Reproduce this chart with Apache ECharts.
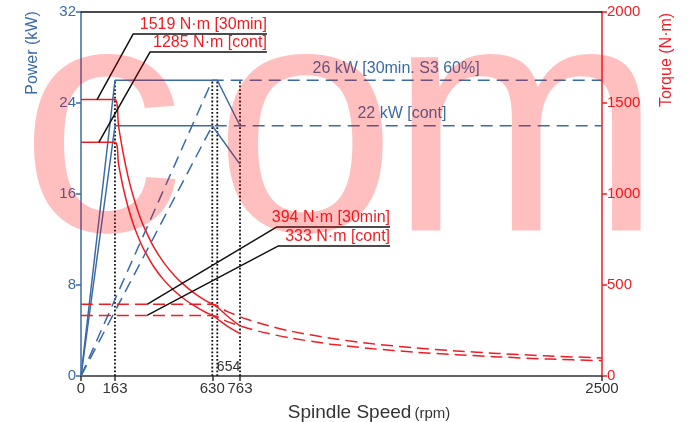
<!DOCTYPE html>
<html>
<head>
<meta charset="utf-8">
<script src="https://cdn.jsdelivr.net/npm/echarts@6/dist/echarts.min.js"></script>
<style>
html, body { margin: 0; padding: 0; background: #fff; }
#chart { width: 694px; height: 422px; }
</style>
</head>
<body>
<div id="chart"></div>
<script>
var blue = '#3b6ba5', red = '#ee1d24', dark = '#333333';
var font = 'Liberation Sans, Arial, sans-serif';

// power curves, [rpm, kW]
var power30 = [[0, 0], [163, 26], [654, 26], [763, 22]];
var powerCont = [[0, 0], [163, 22], [630, 22], [763, 18.6]];
var power30Hi = [[0, 0], [630, 26], [2500, 26]];
var powerContHi = [[0, 0], [630, 22], [2500, 22]];

// torque curves, [rpm, N·m]
var torque30 = [[0, 1519], [163, 1519], [180, 1375], [200, 1238], [225, 1100], [250, 990], [275, 900],
    [300, 825], [350, 707], [400, 619], [450, 550], [500, 495], [550, 450], [600, 413], [654, 379],
    [700, 331], [763, 275]];
var torqueCont = [[0, 1285], [163, 1285], [180, 1165], [200, 1048], [225, 931], [250, 838], [275, 762],
    [300, 698], [350, 599], [400, 524], [450, 466], [500, 419], [550, 381], [600, 349], [630, 333],
    [700, 276], [763, 233]];
var torque30Hi = [[0, 394], [630, 394], [700, 355], [800, 310], [900, 276], [1000, 248], [1200, 207],
    [1400, 177], [1600, 155], [1800, 138], [2000, 124], [2250, 110], [2500, 99]];
var torqueContHi = [[0, 333], [630, 333], [700, 300], [800, 262], [900, 233], [1000, 210], [1200, 175],
    [1400, 150], [1600, 131], [1800, 117], [2000, 105], [2250, 93], [2500, 84]];

// leader lines to the torque labels, [rpm, N·m]
var leader1519 = [[77, 1519], [250, 1879], [892, 1879]];
var leader1285 = [[86, 1285], [331, 1780], [892, 1780]];
var leader394 = [[317, 394], [940, 819], [1483, 819]];
var leader333 = [[317, 333], [945, 714], [1483, 714]];

var speedMarks = [163, 630, 654, 763];
var xTickValues = [0, 163, 630, 763, 2500];

var chart = echarts.init(document.getElementById('chart'));

var lineSeries = function (data, color, type, axis, extra) {
    var s = {
        type: 'line',
        data: data,
        yAxisIndex: axis,
        symbol: 'none',
        animation: false,
        silent: true,
        lineStyle: { color: color, width: 1.5, type: type }
    };
    return Object.assign(s, extra || {});
};

var tagPoint = function (coord, text, color, align, dist) {
    return {
        symbol: 'circle',
        symbolSize: 0,
        data: [{
            coord: coord,
            label: {
                show: true, formatter: text, position: 'top', distance: dist, align: align,
                color: color, fontSize: 16, fontFamily: font
            }
        }]
    };
};

var plain = function (v) { return String(v); };

// watermark letters, placed one by one
var markLetter = function (ch, x) {
    return {
        type: 'text', x: x, y: 140, z: 100, silent: true,
        style: { text: ch, fill: 'rgba(255,0,0,0.25)', font: '328px ' + font, textAlign: 'left', textVerticalAlign: 'middle' }
    };
};

var series = [];
// dotted speed marks
speedMarks.forEach(function (n) {
    series.push(lineSeries([[n, 0], [n, 26]], '#111', 'solid', 0, { lineStyle: { color: '#111', width: 1.8, type: [1.8, 2] } }));
});
series.push(lineSeries(power30, blue, 'solid', 0));
series.push(lineSeries(powerCont, blue, 'solid', 0));
series.push(lineSeries(power30Hi, blue, [12, 7], 0, { markPoint: tagPoint([1512, 26], '26 kW [30min. S3 60%]', blue, 'center', 4) }));
series.push(lineSeries(powerContHi, blue, [12, 7], 0, { markPoint: tagPoint([1540, 22], '22 kW [cont]', blue, 'center', 4) }));
series.push(lineSeries(torque30, red, 'solid', 1, { smooth: 0.3 }));
series.push(lineSeries(torqueCont, red, 'solid', 1, { smooth: 0.3 }));
series.push(lineSeries(torque30Hi, red, [12, 6], 1, { smooth: 0.3 }));
series.push(lineSeries(torqueContHi, red, [12, 6], 1, { smooth: 0.3 }));
series.push(lineSeries(leader1519, '#111', 'solid', 1, { markPoint: tagPoint([892, 1879], '1519 N·m [30min]', red, 'right', 1) }));
series.push(lineSeries(leader1285, '#111', 'solid', 1, { markPoint: tagPoint([892, 1780], '1285 N·m [cont]', red, 'right', 1) }));
series.push(lineSeries(leader394, '#111', 'solid', 1, { markPoint: tagPoint([1483, 819], '394 N·m [30min]', red, 'right', 1) }));
series.push(lineSeries(leader333, '#111', 'solid', 1, { markPoint: tagPoint([1483, 714], '333 N·m [cont]', red, 'right', 1) }));
// the 654 tag above the axis
series.push(lineSeries([], dark, 'solid', 0, {
    markPoint: {
        symbol: 'circle', symbolSize: 0,
        data: [{ coord: [708, 0.2], label: { show: true, formatter: '654', position: 'top', distance: 0, color: dark, fontSize: 14, fontFamily: font } }]
    }
}));

chart.setOption({
    animation: false,
    grid: { left: 81, right: 92, top: 12, bottom: 46, outerBoundsMode: 'none' },
    xAxis: [{
        type: 'value', min: 0, max: 2500,
        name: '{a|Spindle Speed}{b|(rpm)}',
        nameLocation: 'middle', nameGap: 27,
        nameTextStyle: {
            padding: [0, 0, 0, 55],
            rich: {
                a: { fontSize: 19, color: dark, fontFamily: font },
                b: { fontSize: 15, color: dark, fontFamily: font, padding: [3, 0, 0, 3] }
            }
        },
        splitLine: { show: false },
        axisLine: { onZero: false, lineStyle: { color: dark, width: 1.5 } },
        axisTick: { customValues: xTickValues, length: 5, lineStyle: { color: dark, width: 1.5 } },
        axisLabel: { customValues: xTickValues, formatter: plain, color: dark, fontSize: 15, fontFamily: font, margin: 5 }
    }, {
        type: 'value', min: 0, max: 2500, position: 'top',
        axisLine: { onZero: false, lineStyle: { color: '#111', width: 1.5 } },
        axisTick: { show: false }, axisLabel: { show: false }, splitLine: { show: false }
    }],
    yAxis: [{
        type: 'value', min: 0, max: 32, interval: 8, position: 'left',
        splitLine: { show: false },
        axisLine: { show: true, onZero: false, lineStyle: { color: blue, width: 1.5 } },
        axisTick: { show: true, length: 5, lineStyle: { color: blue, width: 1.5 } },
        axisLabel: { color: blue, formatter: plain, fontSize: 15, fontFamily: font, margin: 5 }
    }, {
        type: 'value', min: 0, max: 2000, interval: 500, position: 'right',
        splitLine: { show: false },
        axisLine: { show: true, onZero: false, lineStyle: { color: red, width: 1.5 } },
        axisTick: { show: true, length: 5, lineStyle: { color: red, width: 1.5 } },
        axisLabel: { color: red, formatter: plain, fontSize: 15, fontFamily: font, margin: 5 }
    }],
    graphic: [{
        type: 'text', x: 33, y: 53, rotation: Math.PI / 2,
        style: { text: 'Power (kW)', fill: blue, font: '16px ' + font, textAlign: 'center', textVerticalAlign: 'middle' }
    }, {
        type: 'text', x: 667, y: 60, rotation: Math.PI / 2,
        style: { text: 'Torque (N·m)', fill: red, font: '16px ' + font, textAlign: 'center', textVerticalAlign: 'middle' }
    },
    markLetter('c', 20), markLetter('o', 214), markLetter('m', 389)],
    series: series
});
</script>
</body>
</html>
